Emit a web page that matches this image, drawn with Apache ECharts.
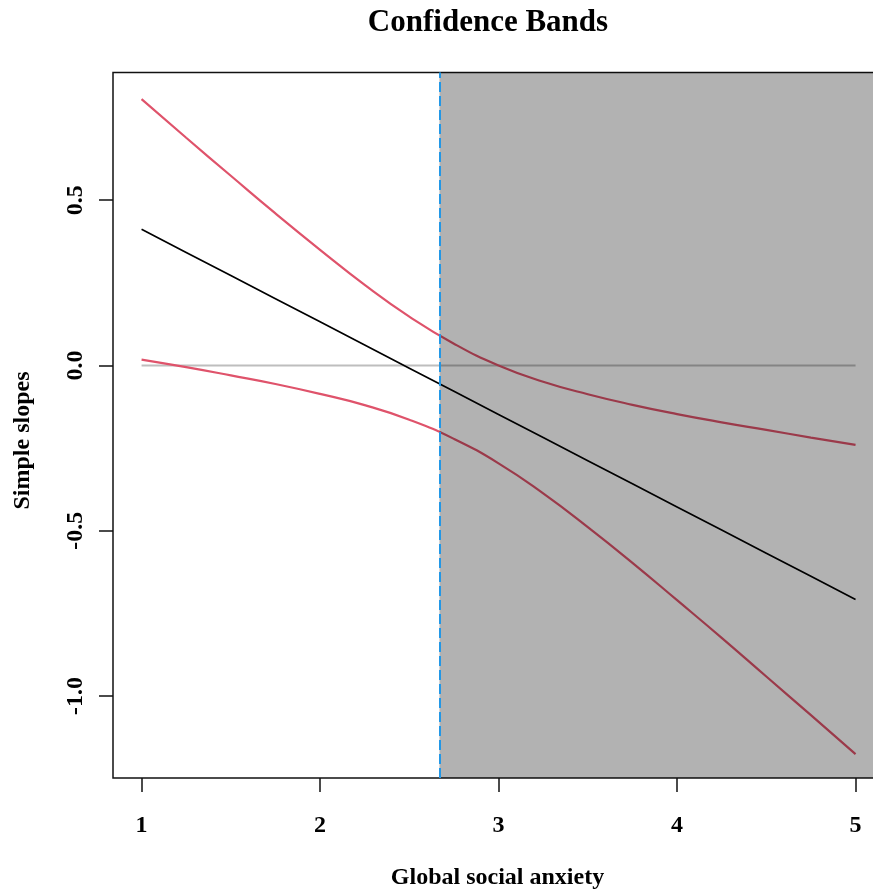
<!DOCTYPE html>
<html>
<head>
<meta charset="utf-8">
<script src="https://cdn.jsdelivr.net/npm/echarts@6/dist/echarts.min.js"></script>
<style>
  html, body { margin: 0; padding: 0; background: #fff; }
  #chart { width: 873px; height: 893px; }
</style>
</head>
<body>
<div id="chart"></div>
<script>
// ---- data ----
const xValues = [1, 1.25, 1.5, 1.75, 2, 2.25, 2.5, 2.75, 3, 3.25, 3.5, 3.75, 4, 4.25, 4.5, 4.75, 5];
const slopeValues = [0.412, 0.342, 0.272, 0.202, 0.132, 0.062, -0.008, -0.078, -0.148, -0.218, -0.288, -0.358, -0.428, -0.498, -0.568, -0.638, -0.708];
const upperValues = [0.806, 0.689, 0.574, 0.460, 0.350, 0.244, 0.148, 0.066, 0.000, -0.049, -0.087, -0.119, -0.147, -0.172, -0.195, -0.218, -0.240];
const lowerValues = [0.018, -0.005, -0.030, -0.056, -0.086, -0.120, -0.164, -0.222, -0.296, -0.387, -0.489, -0.597, -0.710, -0.824, -0.941, -1.058, -1.176];
const refX = [1, 5];
const refY = [0, 0];
const jnPoint = 2.669;           // Johnson-Neyman boundary
const xTicks = [1, 2, 3, 4, 5];
const yTicks = [-1.0, -0.5, 0.0, 0.5];
const xRange = [0.84, 5.16];
const yRange = [-1.2481, 0.8865];

const titleText = 'Confidence Bands';
const xTitle = 'Global social anxiety';
const yTitle = 'Simple slopes';

const pairs = (xs, ys) => xs.map((x, i) => [x, ys[i]]);
const FONT = 'Liberation Serif';

const chart = echarts.init(document.getElementById('chart'), null, { renderer: 'canvas' });
chart.setOption({
  animation: false,
  backgroundColor: '#ffffff',
  grid: {
    left: 113, top: 72.5, width: 771.1, height: 705.5,
    outerBoundsMode: 'none', containLabel: false,
    show: true, borderColor: '#111', borderWidth: 1.5, backgroundColor: 'transparent'
  },
  xAxis: {
    type: 'value', min: xRange[0], max: xRange[1],
    splitLine: { show: false },
    axisLine: { show: false, onZero: false },
    axisTick: { show: true, customValues: xTicks, length: 14, lineStyle: { color: '#111', width: 1.5 } },
    axisLabel: {
      customValues: xTicks, margin: 48, verticalAlign: 'middle',
      fontFamily: FONT, fontWeight: 'bold', fontSize: 24, color: '#000',
      formatter: v => String(v)
    }
  },
  yAxis: {
    type: 'value', min: yRange[0], max: yRange[1],
    splitLine: { show: false },
    axisLine: { show: false, onZero: false },
    axisTick: { show: true, customValues: yTicks, length: 14, lineStyle: { color: '#111', width: 1.5 } },
    axisLabel: {
      customValues: yTicks, margin: 37, rotate: 90, align: 'center', verticalAlign: 'middle',
      fontFamily: FONT, fontWeight: 'bold', fontSize: 24, color: '#000',
      formatter: v => v.toFixed(1)
    }
  },
  series: [
    {
      type: 'line', name: 'zero', data: pairs(refX, refY), symbol: 'none', z: 2,
      lineStyle: { color: '#bebebe', width: 2 }
    },
    {
      type: 'line', name: 'slope', data: pairs(xValues, slopeValues), symbol: 'none', z: 3,
      lineStyle: { color: '#000', width: 1.7 }
    },
    {
      type: 'line', name: 'upper', data: pairs(xValues, upperValues), symbol: 'none', smooth: true, z: 3,
      lineStyle: { color: '#df536b', width: 2.2 }
    },
    {
      type: 'line', name: 'lower', data: pairs(xValues, lowerValues), symbol: 'none', smooth: true, z: 3,
      lineStyle: { color: '#df536b', width: 2.2 }
    },
    {
      type: 'line', name: 'region', data: [], symbol: 'none', z: 5,
      markArea: {
        silent: true, z: 5,
        itemStyle: { color: 'rgba(0,0,0,0.3)' },
        data: [[{ xAxis: jnPoint }, { xAxis: xRange[1] }]]
      }
    },
    {
      type: 'line', name: 'jn', data: [], symbol: 'none', z: 6,
      markLine: {
        silent: true, z: 6, symbol: ['none', 'none'], label: { show: false },
        lineStyle: { color: '#2297e6', width: 2, type: [10, 4] },
        data: [{ xAxis: jnPoint }]
      }
    }
  ],
  graphic: [
    {
      type: 'text', z: 10, position: [488, 23],
      style: { text: titleText, fontFamily: FONT, fontWeight: 'bold', fontSize: 31, fill: '#000', align: 'center', verticalAlign: 'middle' }
    },
    {
      type: 'text', z: 10, position: [497.5, 878],
      style: { text: xTitle, fontFamily: FONT, fontWeight: 'bold', fontSize: 24, fill: '#000', align: 'center', verticalAlign: 'middle' }
    },
    {
      type: 'text', z: 10, position: [23, 440.5], rotation: Math.PI / 2,
      style: { text: yTitle, fontFamily: FONT, fontWeight: 'bold', fontSize: 24, fill: '#000', align: 'center', verticalAlign: 'middle' }
    }
  ]
});
</script>
</body>
</html>
